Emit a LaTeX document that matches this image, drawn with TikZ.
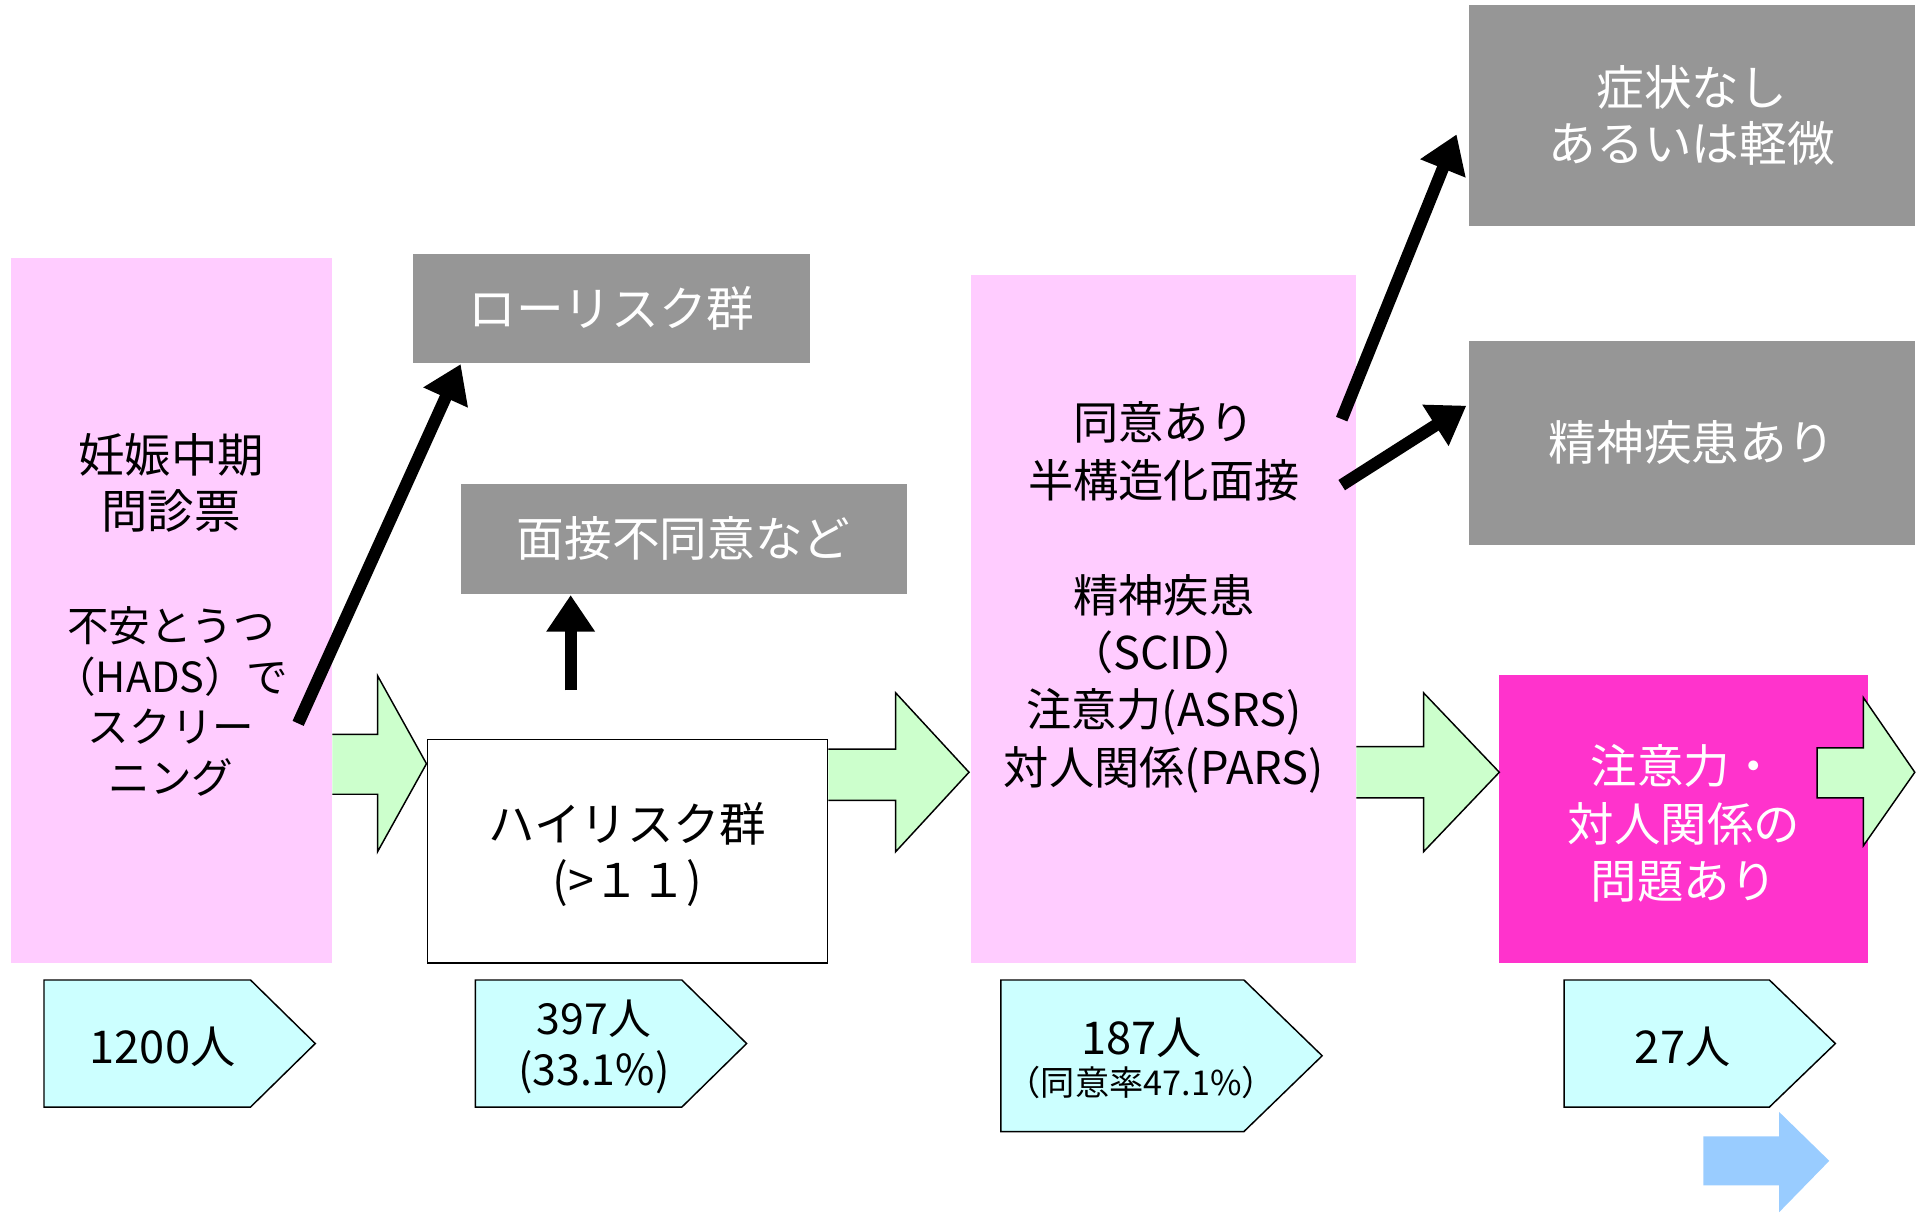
\documentclass[tikz,border=0pt]{standalone}
\usepackage{fontspec}
\setmainfont{Noto Sans CJK JP}
\usetikzlibrary{arrows.meta}
\definecolor{pinkbg}{HTML}{FFCCFF}
\definecolor{grayb}{HTML}{969696}
\definecolor{mag}{HTML}{FF33CC}
\definecolor{lgreen}{HTML}{CCFFCC}
\definecolor{lcyan}{HTML}{CCFFFF}
\definecolor{lblue}{HTML}{99CCFF}
\newcommand\fsz[2]{\fontsize{#1}{#2}\selectfont}
\begin{document}
\begin{tikzpicture}[x=1pt,y=-1pt,
  box/.style={rectangle, inner sep=0pt, outer sep=0pt},
  pinkbox/.style={box, fill=pinkbg},
  graybox/.style={box, fill=grayb, text=white, align=center, font=\fsz{39}{46}},
  txt/.style={align=center, inner sep=0pt},
  greenarrow/.style={fill=lgreen, draw=black, line width=1.2pt, line join=miter},
  pent/.style={fill=lcyan, draw=black, line width=1.2pt, line join=miter},
  blackarrow/.style={line width=10pt, -{Triangle[width=38pt,length=30pt]}},
]
\useasboundingbox (0,0) rectangle (1568,992);

% pink boxes
\node[pinkbox, minimum width=263pt, minimum height=577pt] (q) at (140.5,499.5) {};
\node[txt, font=\fsz{38}{46}] (qt1) at (140,395) {妊娠中期\\問診票};
\node[txt, font=\fsz{34}{41.5}] (qt2) at (140,574) {不安とうつ\\（HADS）で\\スクリー\\ニング};

\node[pinkbox, minimum width=315pt, minimum height=563pt] (iv) at (952.5,506.5) {};
\node[txt, font=\fsz{37}{47}] (ivt) at (952.5,489) {同意あり\\半構造化面接\\[47pt]精神疾患\\（SCID）\\注意力(ASRS)\\対人関係(PARS)};

% gray boxes
\node[graybox, minimum width=325pt, minimum height=89pt] (low) at (500.5,252.5) {ローリスク群};
\node[graybox, minimum width=365pt, minimum height=90pt] (ref) at (559.5,441) {面接不同意など};
\node[graybox, minimum width=365pt, minimum height=181pt] (sym) at (1384.5,94.5) {症状なし\\あるいは軽微};
\node[graybox, minimum width=365pt, minimum height=167pt] (ill) at (1384.5,362.5) {精神疾患あり};

% magenta box
\node[box, fill=mag, minimum width=302pt, minimum height=236pt] (prob) at (1378,670) {};
\node[txt, text=white, font=\fsz{38}{47}] (probt) at (1378,674) {注意力・\\対人関係の\\問題あり};

% green arrows
\draw[greenarrow] (272,601) -- (309,601) -- (309,553) -- (349,625) -- (309,697) -- (309,650) -- (272,650);
\draw[greenarrow] (678,613) -- (733,613) -- (733,567) -- (793,632) -- (733,697) -- (733,655) -- (678,655);
\draw[greenarrow] (1110,611) -- (1165,611) -- (1165,567) -- (1227,632) -- (1165,697) -- (1165,653) -- (1110,653);
\draw[greenarrow] (1487,612) -- (1525,612) -- (1525,571) -- (1567,632) -- (1525,692) -- (1525,653) -- (1487,653) -- cycle;

% high risk box
\node[box, fill=white, draw=black, line width=1.2pt, minimum width=327pt, minimum height=183pt] (high) at (513.5,696.5) {};
\node[txt, font=\fsz{38}{46}] (hight) at (513.5,699) {ハイリスク群\\(>１１)};

% count pentagons
\draw[pent] (36,802) -- (205,802) -- (258,854) -- (205,906) -- (36,906) -- cycle;
\node[txt, font=\fsz{37}{42}] (n1) at (133,857) {1200人};
\draw[pent] (389,802) -- (558,802) -- (611,854) -- (558,906) -- (389,906) -- cycle;
\node[txt, font=\fsz{35}{42}] (n2) at (486,857) {397人\\(33.1\%)};
\draw[pent] (819,802) -- (1018,802) -- (1082,864) -- (1018,926) -- (819,926) -- cycle;
\node[txt, font=\fsz{37}{42}] (n3a) at (934,849) {187人};
\node[txt, font=\fsz{28}{32}] (n3b) at (934,886) {（同意率47.1\%）};
\draw[pent] (1280,802) -- (1448,802) -- (1502,854) -- (1448,906) -- (1280,906) -- cycle;
\node[txt, font=\fsz{37}{42}] (n4) at (1377,857) {27人};

% blue arrow
\fill[lblue] (1394,930) -- (1456,930) -- (1456,910) -- (1497,950) -- (1456,992) -- (1456,970) -- (1394,970) -- cycle;

% black arrows
\coordinate (a1s) at (244,592);
\coordinate (a1e) at (377,298);
\coordinate (a2s) at (467,565);
\coordinate (a2e) at (467,487);
\coordinate (a3s) at (1098,343);
\coordinate (a3e) at (1192,110);
\coordinate (a4s) at (1098,397);
\coordinate (a4e) at (1200,332);
\draw[blackarrow] (a1s) -- (a1e);
\draw[blackarrow] (a2s) -- (a2e);
\draw[blackarrow] (a3s) -- (a3e);
\draw[blackarrow] (a4s) -- (a4e);
\end{tikzpicture}
\end{document}
